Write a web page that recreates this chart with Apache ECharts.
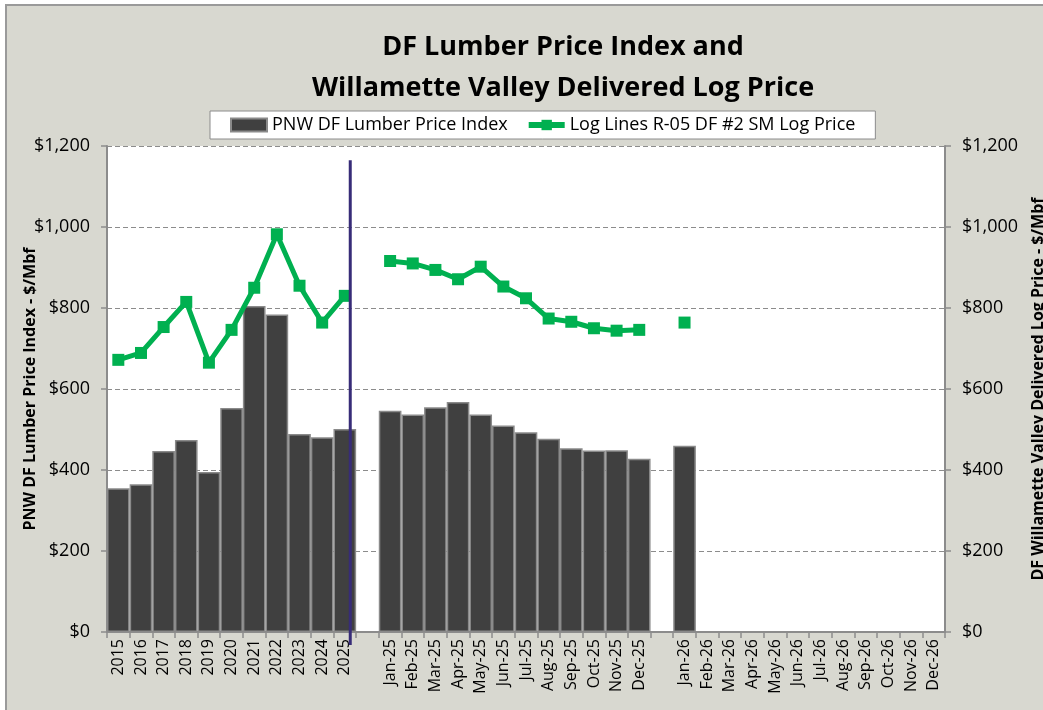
<!DOCTYPE html>
<html>
<head>
<meta charset="utf-8">
<script src="https://cdn.jsdelivr.net/npm/echarts@6/dist/echarts.min.js"></script>
<style>
html,body{margin:0;padding:0;background:#ffffff;}
#bg{position:absolute;left:5px;top:4px;width:1100px;height:720px;background:#D8D8D0;border-left:2px solid #9a9a9a;border-top:2px solid #9a9a9a;}
#main{position:absolute;left:0;top:0;width:1043px;height:710px;}
</style>
</head>
<body>
<div id="bg"></div>
<div id="main"></div>
<script>
var categories = ['2015','2016','2017','2018','2019','2020','2021','2022','2023','2024','2025',' ',
  'Jan-25','Feb-25','Mar-25','Apr-25','May-25','Jun-25','Jul-25','Aug-25','Sep-25','Oct-25','Nov-25','Dec-25','  ',
  'Jan-26','Feb-26','Mar-26','Apr-26','May-26','Jun-26','Jul-26','Aug-26','Sep-26','Oct-26','Nov-26','Dec-26'];
var lumberIndex = [355,365,447,474,395,553,805,784,489,481,501,null,
  546,537,555,568,537,510,493,477,454,448,449,428,null,
  460,null,null,null,null,null,null,null,null,null,null,null];
var logPrice = [672,689,753,815,665,746,850,982,855,764,830,null,
  916,910,894,871,902,853,824,774,766,750,744,746,null,
  764,null,null,null,null,null,null,null,null,null,null,null];
var yTicks = [0,200,400,600,800,1000,1200];
var dividerCategory = '2025';
var dividerTop = 1165;

var chart = echarts.init(document.getElementById('main'));
var fmt = function(v){ return '$' + v.toLocaleString('en-US'); };
var option = {
  backgroundColor: 'transparent',
  textStyle: {fontFamily: 'Open Sans'},
  title: {
    text: 'DF Lumber Price Index and\nWillamette Valley Delivered Log Price',
    left: 558, top: 22, textAlign: 'center',
    textStyle: {fontFamily: 'Open Sans', fontWeight: 'bold', fontSize: 27, lineHeight: 41, color: '#000'}
  },
  legend: {
    left: 210, top: 111,
    backgroundColor: '#ffffff', borderColor: '#8c8c8c', borderWidth: 1,
    padding: [5, 20, 5, 20], itemGap: 18, itemWidth: 36, itemHeight: 13,
    textStyle: {fontFamily: 'Open Sans', fontSize: 18, color: '#000'},
    data: [{name: 'PNW DF Lumber Price Index', icon: 'rect'},
           {name: 'Log Lines R-05 DF #2 SM Log Price', lineStyle: {width: 6}}]
  },
  grid: {left: 107, right: 98, top: 146, bottom: 78, show: true, backgroundColor: '#ffffff', borderWidth: 0,
         containLabel: false, outerBoundsMode: 'none'},
  xAxis: {
    type: 'category', data: categories, boundaryGap: true,
    axisLine: {lineStyle: {color: '#8c8c8c', width: 2}},
    axisTick: {show: true, interval: 0, length: 6, lineStyle: {color: '#8c8c8c', width: 1.5}},
    axisLabel: {interval: 0, rotate: 90, margin: 7, fontSize: 16, color: '#000', fontFamily: 'Open Sans'},
    splitLine: {show: false}
  },
  yAxis: [{
    type: 'value', min: 0, max: 1200, interval: 200, position: 'left',
    name: 'PNW DF Lumber Price Index - $/Mbf', nameLocation: 'middle', nameGap: 69, nameRotate: 90,
    nameMoveOverlap: false,
    nameTextStyle: {fontFamily: 'Open Sans', fontWeight: 'bold', fontSize: 16, color: '#000'},
    axisLine: {show: true, lineStyle: {color: '#8c8c8c', width: 2}},
    axisTick: {show: true, length: 6, lineStyle: {color: '#8c8c8c', width: 1.5}},
    axisLabel: {formatter: fmt, fontSize: 18, color: '#000', margin: 17, fontFamily: 'Open Sans'},
    splitLine: {show: true, lineStyle: {color: '#8c8c8c', type: [5, 3], width: 1.2}}
  }, {
    type: 'value', min: 0, max: 1200, interval: 200, position: 'right',
    name: 'DF Willamette Valley Delivered Log Price - $/Mbf', nameLocation: 'middle', nameGap: 85, nameRotate: 90,
    nameMoveOverlap: false,
    nameTextStyle: {fontFamily: 'Open Sans', fontWeight: 'bold', fontSize: 16, color: '#000'},
    axisLine: {show: true, lineStyle: {color: '#8c8c8c', width: 2}},
    axisTick: {show: true, length: 6, lineStyle: {color: '#8c8c8c', width: 1.5}},
    axisLabel: {formatter: fmt, fontSize: 18, color: '#000', margin: 17, fontFamily: 'Open Sans'},
    splitLine: {show: false}
  }],
  series: [{
    name: 'PNW DF Lumber Price Index', type: 'bar', data: lumberIndex, yAxisIndex: 0,
    barWidth: '100%', barGap: '-100%', barCategoryGap: 0,
    itemStyle: {color: '#404040', borderColor: '#8a8a8a', borderWidth: 1.5},
    emphasis: {disabled: true}
  }, {
    name: 'Log Lines R-05 DF #2 SM Log Price', type: 'line', data: logPrice, yAxisIndex: 1,
    connectNulls: false, symbol: 'rect', symbolSize: 12, showAllSymbol: true,
    lineStyle: {color: '#00B050', width: 5},
    itemStyle: {color: '#00B050'},
    emphasis: {disabled: true}, z: 5
  }],
  animation: false
};
chart.setOption(option);

var idx = categories.indexOf(dividerCategory);
var cx = chart.convertToPixel({xAxisIndex: 0}, idx);
var band = chart.convertToPixel({xAxisIndex: 0}, idx + 1) - cx;
var yTop = chart.convertToPixel({yAxisIndex: 0}, dividerTop);
var yZero = chart.convertToPixel({yAxisIndex: 0}, 0);
var lx = cx + band * 0.24;
chart.setOption({
  graphic: [{
    type: 'line', z: 100,
    shape: {x1: lx, y1: yTop, x2: lx, y2: yZero + 13},
    style: {stroke: '#372C78', lineWidth: 3}
  }]
});
</script>
</body>
</html>
